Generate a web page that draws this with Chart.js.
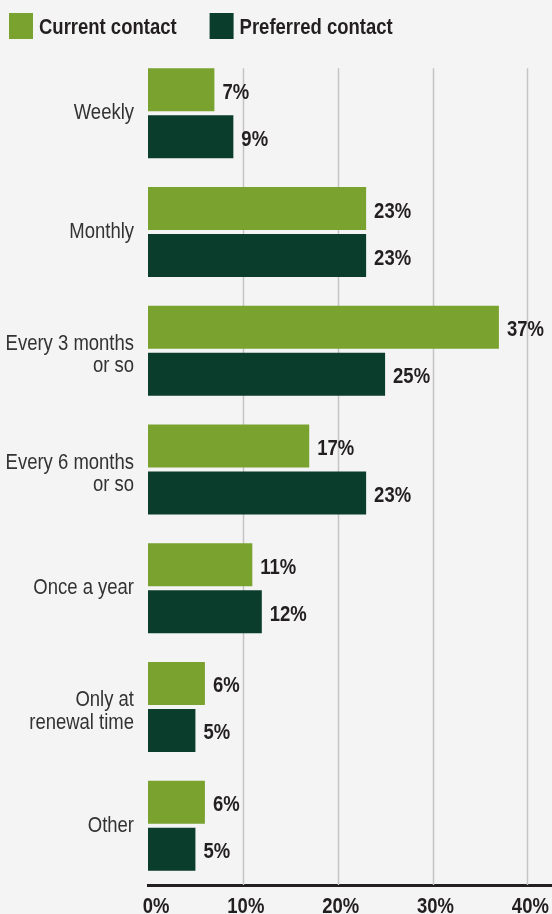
<!DOCTYPE html>
<html>
<head>
<meta charset="utf-8">
<script src="https://cdn.jsdelivr.net/npm/chart.js@4/dist/chart.umd.min.js"></script>
<style>
  html, body { margin:0; padding:0; background:#f4f4f4; }
  #wrap { width:552px; height:914px; }
</style>
</head>
<body>
<div id="wrap"><canvas id="chartContact"></canvas></div>
<script>
const categories = [
  'Weekly',
  'Monthly',
  ['Every 3 months', 'or so'],
  ['Every 6 months', 'or so'],
  'Once a year',
  ['Only at', 'renewal time'],
  'Other'
];
const currentContact   = [7, 23, 37, 17, 11, 6, 6];
const preferredContact = [9, 23, 25, 23, 12, 5, 5];
const tickValues = [0, 10, 20, 30, 40];

const FONT = '"Liberation Sans", Arial, sans-serif';
const INK = '#231f20';
const NARROW = 0.84; // squeeze Liberation Sans into a condensed face

// draw text horizontally condensed, on the alphabetic baseline
function narrowText(ctx, text, x, y, align){
  ctx.save();
  ctx.translate(x, y);
  ctx.scale(NARROW, 1);
  ctx.textAlign = align;
  ctx.textBaseline = 'alphabetic';
  ctx.fillText(text, 0, 0);
  ctx.restore();
  return ctx.measureText(text).width * NARROW;
}

// vertical grid lines, starting at the top of the first bar
const gridPlugin = {
  id:'gridFromBars',
  beforeDatasetsDraw(chart){
    const {ctx, scales:{x}, chartArea} = chart;
    const first = chart.getDatasetMeta(0).data[0];
    const top = first.y - first.height/2;
    ctx.save();
    ctx.strokeStyle = '#c4c4c6';
    ctx.lineWidth = 1.5;
    tickValues.filter(v=>v>0).forEach(v=>{
      const px = Math.round(x.getPixelForValue(v)) + 0.5;
      ctx.beginPath();
      ctx.moveTo(px, top);
      ctx.lineTo(px, chartArea.bottom);
      ctx.stroke();
    });
    ctx.restore();
  }
};

// axis labels, value labels and legend, all in the condensed face
const textPlugin = {
  id:'condensedText',
  afterDraw(chart){
    const {ctx, scales:{x, y}, chartArea} = chart;
    ctx.save();

    // category names
    ctx.font = `22px ${FONT}`;
    ctx.fillStyle = '#333333';
    categories.forEach((lab, i)=>{
      const cy = y.getPixelForTick(i);
      if(Array.isArray(lab)){
        lab.forEach((t, k)=> narrowText(ctx, t, chartArea.left - 14, cy - 1 + k*22.7, 'right'));
      } else {
        narrowText(ctx, lab, chartArea.left - 14, cy + 6, 'right');
      }
    });

    // percent labels next to the bars
    ctx.font = `bold 22px ${FONT}`;
    ctx.fillStyle = INK;
    chart.data.datasets.forEach((ds, i)=>{
      chart.getDatasetMeta(i).data.forEach((bar, j)=>{
        narrowText(ctx, ds.data[j] + '%', bar.x + 8, bar.y + 9, 'left');
      });
    });

    // x axis tick labels
    tickValues.forEach(v=>{
      const px = x.getPixelForValue(v) + (v === 0 ? 8 : 3);
      narrowText(ctx, v + '%', px, chartArea.bottom + 28, 'center');
    });

    // legend
    let lx = 9;
    chart.data.datasets.forEach(ds=>{
      ctx.fillStyle = ds.backgroundColor;
      ctx.fillRect(lx, 13, 24, 26);
      ctx.fillStyle = INK;
      const w = narrowText(ctx, ds.label, lx + 30, 34, 'left');
      lx += 30 + w + 33;
    });
    ctx.restore();
  }
};

new Chart(document.getElementById('chartContact'), {
  type:'bar',
  data:{
    labels: categories,
    datasets:[
      { label:'Current contact', data: currentContact, backgroundColor:'#7aa22f' },
      { label:'Preferred contact', data: preferredContact, backgroundColor:'#0a3d2b' }
    ]
  },
  options:{
    indexAxis:'y',
    responsive:true,
    maintainAspectRatio:false,
    animation:false,
    categoryPercentage:0.792,
    barPercentage:0.915,
    layout:{ padding:{ top:54, right:0, left:0, bottom:0 } },
    plugins:{ legend:{ display:false }, tooltip:{ enabled:false } },
    scales:{
      x:{
        min:0, max:42.6,
        afterBuildTicks:(axis)=>{ axis.ticks = tickValues.map(v=>({ value:v })); },
        afterFit:(axis)=>{ axis.height = 29; },
        grid:{ display:false },
        border:{ display:true, color:INK, width:3 },
        ticks:{ display:false }
      },
      y:{
        afterFit:(axis)=>{ axis.width = 148; },
        grid:{ display:false, drawTicks:false },
        border:{ display:false },
        ticks:{ display:false }
      }
    }
  },
  plugins:[gridPlugin, textPlugin]
});
</script>
</body>
</html>
